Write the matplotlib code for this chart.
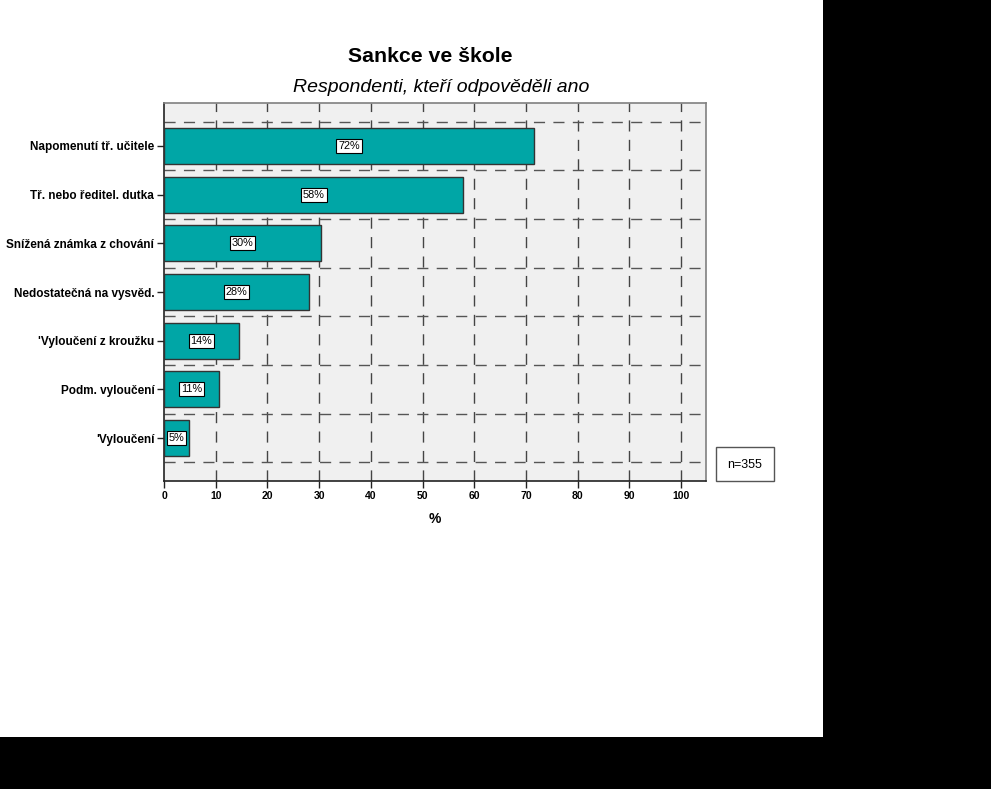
import matplotlib
matplotlib.use("Agg")
import matplotlib.pyplot as plt
from matplotlib.patches import Rectangle
from matplotlib import font_manager

categories = ["Napomenutí tř. učitele", "Tř. nebo ředitel. dutka", "Snížená známka z chování",
              "Nedostatečná na vysvěd.", "'Vyloučení z kroužku", "Podm. vyloučení", "'Vyloučení"]
values = [71.6, 57.9, 30.3, 28.1, 14.5, 10.6, 4.8]
xticks = [0, 10, 20, 30, 40, 50, 60, 70, 80, 90, 100]

names = {f.name for f in font_manager.fontManager.ttflist}
base = "Liberation Sans" if "Liberation Sans" in names else "DejaVu Sans"
narrow = "Liberation Sans Narrow" if "Liberation Sans Narrow" in names else base
plt.rcParams['font.family'] = [base, 'DejaVu Sans']

W, H = 991, 789
fig = plt.figure(figsize=(W / 100, H / 100), dpi=100)
fig.patch.set_facecolor('black')
fig.add_artist(Rectangle((0, (H - 737) / H), 823 / W, 737 / H, transform=fig.transFigure,
                         facecolor='white', edgecolor='none', zorder=-10))

ax = fig.add_axes([164 / W, 1 - 481 / H, (706 - 164) / W, (481 - 103) / H])
ax.set_facecolor('#f0f0f0')

ypos = list(range(len(categories)))
ax.set_xlim(0, 104.8)
ax.set_ylim(len(categories) - 0.5 + 0.38, -0.5 - 0.38)

# grid
for x in xticks[1:]:
    ax.axvline(x, color='#444444', lw=1.0, ls=(0, (8, 6)), zorder=1)
for i in range(len(categories) + 1):
    ax.axhline(i - 0.5, color='#555555', lw=1.0, ls=(0, (8, 6)), zorder=1)

bars = ax.barh(ypos, values, height=0.74, color='#00a6a6', edgecolor='#333333', lw=1.0, zorder=3)
for y, v in zip(ypos, values):
    ax.text(v / 2, y, f"{round(v):d}%", ha='center', va='center', fontsize=7.8, zorder=5,
            bbox=dict(boxstyle='square,pad=0.18', facecolor='white', edgecolor='black', lw=0.8))

ax.set_yticks(ypos)
ax.set_yticklabels(categories, fontsize=8.5, fontweight='bold')
ax.set_xticks(xticks)
ax.set_xticklabels([str(t) for t in xticks], fontsize=7.5, fontweight='bold', family=[narrow, 'DejaVu Sans'])
ax.tick_params(axis='both', direction='out', length=5, width=1, color='#222222', pad=2)
ax.set_xlabel('%', fontsize=10, fontweight='bold', labelpad=8)

for s in ['left', 'bottom']:
    ax.spines[s].set_color('#222222')
    ax.spines[s].set_linewidth(1.2)
for s in ['top', 'right']:
    ax.spines[s].set_color('#808080')
    ax.spines[s].set_linewidth(1.2)

fig.text(430 / W, 1 - 56 / H, 'Sankce ve škole', ha='center', va='center', fontsize=15.3, fontweight='bold')
fig.text(441 / W, 1 - 88 / H, 'Respondenti, kteří odpověděli ano', ha='center', va='center',
         fontsize=14, fontstyle='italic')

fig.add_artist(Rectangle((716 / W, 1 - 481 / H), 58 / W, 34 / H, transform=fig.transFigure,
                         facecolor='white', edgecolor='#555555', lw=1.0))
fig.text(745 / W, 1 - 465 / H, 'n=355', ha='center', va='center', fontsize=9)

fig.savefig('out.png', dpi=100, facecolor=fig.get_facecolor())
